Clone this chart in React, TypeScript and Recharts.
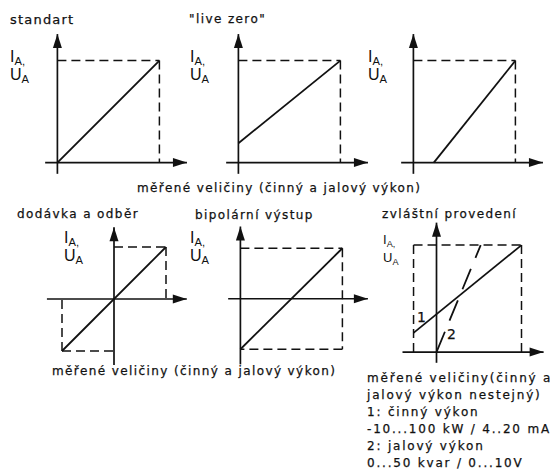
import { ComposedChart, XAxis, YAxis, Line, Scatter, ReferenceLine } from "recharts";

type Pt = { x: number; y: number };
type Seg = [Pt, Pt];

const INK = "#111";

// characteristics (output vs. measured quantity, in box units)
const standartLine: Pt[] = [{ x: 0, y: 0 }, { x: 1, y: 1 }];
const liveZeroLine: Pt[] = [{ x: 0, y: 0.19 }, { x: 1, y: 1 }];
const offsetLine: Pt[] = [{ x: 0.2, y: 0 }, { x: 1, y: 1 }];
const supplyLine: Pt[] = [{ x: -1, y: -1 }, { x: 1, y: 1 }];
const bipolarLine: Pt[] = [{ x: 0, y: -1 }, { x: 1, y: 1 }];
const activeLine: Pt[] = [{ x: -0.27, y: 0.18 }, { x: 1, y: 1 }]; // 1: činný výkon
const reactiveLine: Pt[] = [{ x: 0, y: 0 }, { x: 0.52, y: 1 }]; // 2: jalový výkon

// dashed limit boxes
const topBox: Seg[] = [
  [{ x: 0, y: 1 }, { x: 1, y: 1 }],
  [{ x: 1, y: 1 }, { x: 1, y: 0 }],
];
const supplyBox: Seg[] = [
  [{ x: 0, y: 1 }, { x: 1, y: 1 }],
  [{ x: 1, y: 1 }, { x: 1, y: 0 }],
  [{ x: -1, y: -1 }, { x: 0, y: -1 }],
  [{ x: -1, y: -1 }, { x: -1, y: 0 }],
];
const bipolarBox: Seg[] = [
  [{ x: 0, y: 1 }, { x: 1, y: 1 }],
  [{ x: 1, y: 1 }, { x: 1, y: -1 }],
  [{ x: 1, y: -1 }, { x: 0, y: -1 }],
];
const specialBox: Seg[] = [
  [{ x: -0.27, y: 1 }, { x: 1, y: 1 }],
  [{ x: 1, y: 1 }, { x: 1, y: 0 }],
  [{ x: -0.27, y: 1 }, { x: -0.27, y: 0 }],
];

// axes: [start, arrow tip]
const topX: Seg = [{ x: -0.12, y: 0 }, { x: 1.27, y: 0 }];
const topY: Seg = [{ x: 0, y: -0.11 }, { x: 0, y: 1.26 }];
const supplyX: Seg = [{ x: -1.29, y: 0 }, { x: 1.4, y: 0 }];
const supplyY: Seg = [{ x: 0, y: -1.27 }, { x: 0, y: 1.38 }];
const bipolarX: Seg = [{ x: -0.12, y: 0 }, { x: 1.25, y: 0 }];
const bipolarY: Seg = [{ x: 0, y: -1.3 }, { x: 0, y: 1.43 }];
const specialX: Seg = [{ x: -0.4, y: 0 }, { x: 1.26, y: 0 }];
const specialY: Seg = [{ x: 0, y: -0.1 }, { x: 0, y: 1.21 }];

const ArrowHead = (props: any) => {
  const { cx, cy, payload } = props;
  if (cx == null || cy == null) return null;
  const L = 14;
  const W = 4.5;
  const pts =
    payload.dir === "up"
      ? `${cx},${cy} ${cx - W},${cy + L} ${cx + W},${cy + L}`
      : `${cx},${cy} ${cx - L},${cy - W} ${cx - L},${cy + W}`;
  return <polygon points={pts} fill={INK} />;
};

type PanelProps = {
  left: number;
  top: number;
  ppuX: number;
  ppuY: number;
  xDomain: [number, number];
  yDomain: [number, number];
  xAxis: Seg;
  yAxis: Seg;
  box: Seg[];
  lines: Pt[][];
  dashed?: Pt[];
};

function Panel({ left, top, ppuX, ppuY, xDomain, yDomain, xAxis, yAxis, box, lines, dashed }: PanelProps) {
  const width = (xDomain[1] - xDomain[0]) * ppuX;
  const height = (yDomain[1] - yDomain[0]) * ppuY;
  const arrows = [
    { ...xAxis[1], dir: "right" },
    { ...yAxis[1], dir: "up" },
  ];
  return (
    <div style={{ position: "absolute", left, top }}>
      <ComposedChart width={width} height={height} margin={{ top: 0, right: 0, bottom: 0, left: 0 }}>
        <XAxis type="number" dataKey="x" domain={xDomain} hide allowDataOverflow />
        <YAxis type="number" dataKey="y" domain={yDomain} hide allowDataOverflow />
        {box.map((s, i) => (
          <ReferenceLine key={"b" + i} segment={s} stroke={INK} strokeWidth={1.5} strokeDasharray="9 5" ifOverflow="visible" />
        ))}
        <ReferenceLine segment={xAxis} stroke={INK} strokeWidth={1.7} ifOverflow="visible" />
        <ReferenceLine segment={yAxis} stroke={INK} strokeWidth={1.7} ifOverflow="visible" />
        {lines.map((d, i) => (
          <Line key={"l" + i} data={d} dataKey="y" type="linear" stroke={INK} strokeWidth={1.8} dot={false} activeDot={false} isAnimationActive={false} />
        ))}
        {dashed && (
          <Line data={dashed} dataKey="y" type="linear" stroke={INK} strokeWidth={1.8} strokeDasharray="22 12" dot={false} activeDot={false} isAnimationActive={false} />
        )}
        <Scatter data={arrows} shape={ArrowHead} isAnimationActive={false} />
      </ComposedChart>
    </div>
  );
}

const txt = { fontFamily: "DejaVu Sans", fontSize: 12, letterSpacing: 1.4, fill: INK, stroke: INK, strokeWidth: 0.25 } as const;
const note = { ...txt, letterSpacing: 1.8 };

function OutLabel({ x, y, gap = 18, size = 16 }: { x: number; y: number; gap?: number; size?: number }) {
  const st = { fontFamily: "Liberation Sans", fontSize: size, fill: INK };
  return (
    <g>
      <text x={x} y={y} style={st}>
        I<tspan fontSize={size * 0.7} dy={3}>A,</tspan>
      </text>
      <text x={x} y={y + gap} style={st}>
        U<tspan fontSize={size * 0.7} dy={3}>A</tspan>
      </text>
    </g>
  );
}

export default function App() {
  return (
    <div style={{ position: "absolute", left: 0, top: 0, width: 557, height: 473, background: "#fff" }}>
      <Panel left={36.6} top={30} ppuX={102} ppuY={102} xDomain={[-0.2, 1.3]} yDomain={[-0.2, 1.3]} xAxis={topX} yAxis={topY} box={topBox} lines={[standartLine]} />
      <Panel left={217.6} top={30} ppuX={102} ppuY={102} xDomain={[-0.2, 1.3]} yDomain={[-0.2, 1.3]} xAxis={topX} yAxis={topY} box={topBox} lines={[liveZeroLine]} />
      <Panel left={392.6} top={30} ppuX={102} ppuY={102} xDomain={[-0.2, 1.3]} yDomain={[-0.2, 1.3]} xAxis={topX} yAxis={topY} box={topBox} lines={[offsetLine]} />
      <Panel left={36} top={221} ppuX={52} ppuY={52} xDomain={[-1.5, 1.5]} yDomain={[-1.5, 1.5]} xAxis={supplyX} yAxis={supplyY} box={supplyBox} lines={[supplyLine]} />
      <Panel left={219.6} top={223.25} ppuX={102} ppuY={50.5} xDomain={[-0.2, 1.3]} yDomain={[-1.5, 1.5]} xAxis={bipolarX} yAxis={bipolarY} box={bipolarBox} lines={[bipolarLine]} />
      <Panel left={393.5} top={212.9} ppuX={85} ppuY={107} xDomain={[-0.5, 1.4]} yDomain={[-0.2, 1.3]} xAxis={specialX} yAxis={specialY} box={specialBox} lines={[activeLine]} dashed={reactiveLine} />

      <svg width={557} height={473} style={{ position: "absolute", left: 0, top: 0, pointerEvents: "none" }}>
        <text x={10} y={24} style={{ ...txt, fontSize: 13, letterSpacing: 1.2 }}>standart</text>
        <text x={189} y={23} style={txt}>"live zero"</text>
        <OutLabel x={10} y={62} />
        <OutLabel x={190} y={62} />
        <OutLabel x={368} y={62} />
        <text x={137} y={192} style={txt}>měřené veličiny (činný a jalový výkon)</text>

        <text x={17} y={218} style={txt}>dodávka a odběr</text>
        <text x={195} y={219} style={txt}>bipolární výstup</text>
        <text x={382} y={218} style={txt}>zvláštní provedení</text>
        <OutLabel x={64} y={243} />
        <OutLabel x={190} y={243} />
        <OutLabel x={383} y={244} gap={18} size={13} />
        <text x={417} y={322} style={{ ...txt, fontSize: 14 }}>1</text>
        <text x={447} y={339} style={{ ...txt, fontSize: 14 }}>2</text>
        <text x={52} y={375} style={txt}>měřené veličiny (činný a jalový výkon)</text>

        <text x={367} y={382} style={note}>měřené veličiny(činný a</text>
        <text x={367} y={399} style={note}>jalový výkon nestejný)</text>
        <text x={367} y={416} style={note}>1: činný výkon</text>
        <text x={367} y={433} style={note}>-10...100 kW / 4..20 mA</text>
        <text x={367} y={450} style={note}>2: jalový výkon</text>
        <text x={367} y={467} style={note}>0...50 kvar / 0...10V</text>
      </svg>
    </div>
  );
}
